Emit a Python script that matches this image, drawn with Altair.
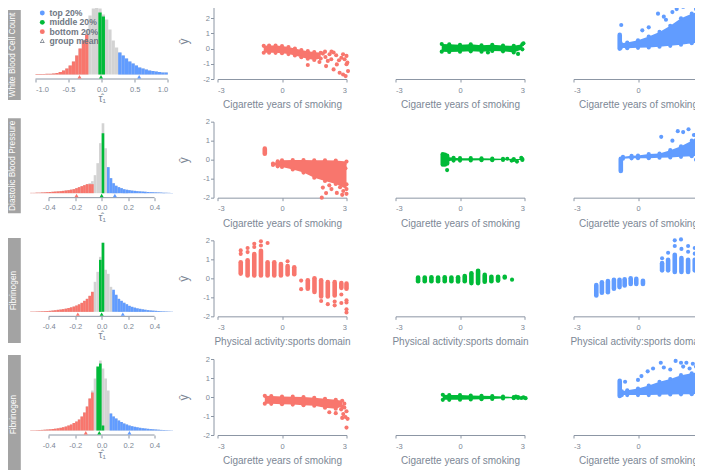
import altair as alt
import pandas as pd

RED, GREEN, BLUE, GRAY = "#F8766D", "#00BA38", "#619CFF", "#D3D3D3"
STRIP = "#A3A3A3"
AXC = "#8C96A4"
TXC = "#7C8795"
FONT = "Liberation Sans"

STRIP_LABELS = ["White Blood Cell Count", "Diastolic Blood Pressure", "Fibrinogen", "Fibrinogen"]
X_TITLES = ["Cigarette years of smoking", "Cigarette years of smoking",
            "Physical activity:sports domain", "Cigarette years of smoking"]
SCATTER_X_TICKS = [-3, 0, 3]
Y_TICKS = [[-2, -1, 0, 1, 2, 3], [-2, -1, 0, 1, 2], [-2, -1, 0, 1, 2], [-2, -1, 0, 1, 2]]
Y_DOMAINS = [[-2, 3], [-2, 2], [-2, 2], [-2, 2]]
HIST_TICKS = [[-1.0, -0.5, 0.0, 0.5, 1.0], [-0.4, -0.2, 0.0, 0.2, 0.4],
              [-0.4, -0.2, 0.0, 0.2, 0.4], [-0.4, -0.2, 0.0, 0.2, 0.4]]
HIST_DOMAINS = [[-1.0, 1.0], [-0.5, 0.5], [-0.5, 0.5], [-0.5, 0.5]]
LEGEND_LABELS = ["top 20%", "middle 20%", "bottom 20%", "group mean"]
GROUPS = ["bottom", "middle", "top"]

# ---------------- histograms (bar heights, arbitrary units) ----------------
HIST_START = [-1.0, -0.54, -0.54, -0.54]
HIST_BIN = [0.05, 0.02, 0.02, 0.02]

WBC_GRAY = [0.5, 0.5, 0.5, 0.7, 0.7, 1, 1.5, 2.5, 4, 6, 9, 13, 19, 26, 34, 44, 59, 66, 69, 66,
            60, 55, 45, 34, 27, 22, 19, 16, 13, 11, 9, 7, 6, 5, 4, 3.5, 3, 2.5, 2, 2]
WBC_RED = (-1.0, [0.5, 0.5, 0.5, 0.7, 0.7, 1, 1.5, 2.5, 4, 6, 9, 13, 19, 26, 34, 40])
WBC_GREEN = (-0.05, [62, 58])
WBC_BLUE = (0.25, [22, 19, 16, 13, 11, 9, 7, 6, 5, 4, 3.5, 3, 2.5, 2, 2])
WBC_MEANS = [-0.335, -0.01, 0.567]

DBP_GRAY = [0.3, 0.3, 0.5, 0.5, 0.7, 0.8, 1, 1.2, 1.4, 1.6, 1.8, 2, 2.3, 2.7, 3, 3.5, 4, 5, 6, 7,
            8, 9, 10, 12, 18, 30, 50, 70, 45, 26, 15, 10, 7.5, 6, 5, 4, 3.5, 3, 2.6, 2.3,
            2, 1.8, 1.6, 1.4, 1.2, 1, 0.9, 0.8, 0.7, 0.6, 0.5, 0.4, 0.3, 0.2]
DBP_RED = (-0.54, [0.3, 0.3, 0.5, 0.5, 0.7, 0.8, 1, 1.2, 1.4, 1.6, 1.8, 2, 2.3, 2.7, 3, 3.5, 4, 5,
                   6, 7, 8, 9, 9, 9])
DBP_GREEN = (0.0, [60])
DBP_BLUE = (0.04, [26, 15, 10, 7.5, 6, 5, 4, 3.5, 3, 2.6, 2.3, 2, 1.8, 1.6, 1.4, 1.2, 1, 0.9,
                   0.8, 0.7, 0.6, 0.5, 0.4, 0.3, 0.2])
DBP_MEANS = [-0.19, 0.0, 0.10]

FIB1_GRAY = [0.3, 0.3, 0.4, 0.5, 0.6, 0.7, 0.8, 1, 1.3, 1.6, 2, 2.3, 2.7, 3.2, 3.8, 4.5, 5.3, 6.3,
             7.5, 9, 11, 13, 16, 20, 30, 40, 55, 69, 42, 38, 25, 20, 16, 13, 11, 9, 7.5, 6, 5,
             4.2, 3.5, 3, 2.5, 2, 1.7, 1.4, 1.2, 1, 0.8, 0.6, 0.5, 0.4, 0.3, 0.2]
FIB1_RED = (-0.54, [0.3, 0.3, 0.4, 0.5, 0.6, 0.7, 0.8, 1, 1.3, 1.6, 2, 2.3, 2.7, 3.2, 3.8, 4.5,
                    5.3, 6.3, 7.5, 9, 11, 13, 16, 20])
FIB1_GREEN = (-0.02, [52, 69])
FIB1_BLUE = (0.08, [22, 17, 13, 11, 9, 7.5, 6, 5, 4.2, 3.5, 3, 2.5, 2, 1.7, 1.4, 1.2, 1, 0.8, 0.6,
                    0.5, 0.4, 0.3, 0.2])
FIB1_MEANS = [-0.18, 0.0, 0.16]

FIB2_GRAY = [0.3, 0.3, 0.4, 0.5, 0.6, 0.8, 1, 1.2, 1.5, 1.8, 2.2, 2.7, 3.3, 4, 5, 6, 7.5, 9, 11,
             14, 18, 24, 32, 40, 52, 62, 70, 62, 52, 40, 17, 14, 12, 10, 8.5, 7, 6, 5, 4.3,
             3.7, 3.2, 2.7, 2.3, 2, 1.7, 1.4, 1.2, 1, 0.8, 0.6, 0.5, 0.4, 0.3, 0.2]
FIB2_RED = (-0.54, [0.3, 0.3, 0.4, 0.5, 0.6, 0.8, 1, 1.2, 1.5, 1.8, 2.2, 2.7, 3.3, 4, 5, 6, 7.5,
                    9, 11, 14, 18, 24, 32, 38])
FIB2_GREEN = (-0.04, [64, 67, 5])
FIB2_BLUE = (0.06, [17, 14, 12, 10, 8.5, 7, 6, 5, 4.3, 3.7, 3.2, 2.7, 2.3, 2, 1.7, 1.4, 1.2, 1,
                    0.8, 0.6, 0.5, 0.4, 0.3, 0.2])
FIB2_MEANS = [-0.12, -0.018, 0.21]

HISTS = [(WBC_GRAY, WBC_RED, WBC_GREEN, WBC_BLUE, WBC_MEANS),
         (DBP_GRAY, DBP_RED, DBP_GREEN, DBP_BLUE, DBP_MEANS),
         (FIB1_GRAY, FIB1_RED, FIB1_GREEN, FIB1_BLUE, FIB1_MEANS),
         (FIB2_GRAY, FIB2_RED, FIB2_GREEN, FIB2_BLUE, FIB2_MEANS)]

# ---------------- scatter panels: clouds (x, lo, hi), strips (x, lo, hi), dots (x, y) --------
WBC_LOW_CLOUD = [(-0.85, -0.27, 0.18), (-0.6, -0.27, 0.2), (-0.3, -0.28, 0.2), (0.0, -0.3, 0.17),
                 (0.3, -0.36, 0.1), (0.6, -0.45, 0.0), (0.9, -0.57, -0.1), (1.2, -0.67, -0.17),
                 (1.5, -0.75, -0.22), (1.8, -0.65, -0.27)]
WBC_LOW_STRIPS = []
WBC_LOW_DOTS = [(1.59, -0.48), (1.74, -0.88), (1.9, -0.33), (2.02, -0.55), (2.13, -0.81),
                (2.21, -0.37), (2.29, -0.7), (2.4, -0.26), (2.52, -0.44), (2.55, -1.04),
                (2.65, -0.77), (2.76, -0.6), (2.84, -0.37), (2.91, -0.7), (3.0, -0.48),
                (3.04, -0.92), (2.4, -1.37), (2.68, -1.59), (2.84, -1.7), (2.96, -1.81),
                (3.07, -1.48), (1.2, -1.08), (2.05, -1.15), (3.0, -1.03), (2.0, -0.2), (2.3, -0.2)]

WBC_MID_CLOUD = [(-0.85, -0.2, 0.3), (-0.5, -0.22, 0.28), (0.0, -0.2, 0.25), (0.5, -0.18, 0.28),
                 (1.0, -0.2, 0.22), (1.5, -0.15, 0.25), (2.0, -0.18, 0.2), (2.5, -0.25, 0.18),
                 (2.9, -0.05, 0.28)]
WBC_MID_STRIPS = []
WBC_MID_DOTS = [(2.7, -0.35), (2.95, 0.35), (1.3, -0.25)]

WBC_TOP_CLOUD = [(-0.8, 0.05, 0.35), (-0.5, 0.02, 0.4), (0.0, 0.05, 0.55), (0.5, 0.08, 0.8),
                 (1.0, 0.12, 1.1), (1.5, 0.18, 1.5), (2.0, 0.25, 2.0), (2.5, 0.35, 2.3),
                 (3.0, 0.4, 2.5), (3.1, 0.45, 2.6)]
WBC_TOP_STRIPS = [(-0.85, 0.0, 0.9)]
WBC_TOP_DOTS = [(-0.78, 1.55), (0.93, 2.3), (0.5, 1.4), (1.3, 1.9), (1.6, 2.4), (1.8, 2.6),
                (2.1, 2.75), (2.3, 2.9), (2.6, 2.95), (2.9, 2.8), (0.2, 1.2), (1.2, 2.1),
                (2.7, 2.6), (3.05, 2.9), (1.9, 2.9)]

DBP_LOW_CLOUD = [(-0.42, -0.28, -0.2), (-0.2, -0.35, -0.08), (0.0, -0.38, -0.03),
                 (0.5, -0.52, -0.02), (1.0, -0.68, -0.02), (1.5, -0.95, -0.03),
                 (2.0, -1.12, -0.03), (2.5, -1.28, -0.05), (3.0, -1.55, -0.1)]
DBP_LOW_STRIPS = [(-0.8, 0.31, 0.58)]
DBP_LOW_DOTS = [(1.9, -1.47), (2.05, -1.76), (2.55, -1.75), (2.85, -1.65), (2.3, -1.55),
                (2.7, -1.45), (3.0, -1.8), (2.95, -0.45), (2.9, -0.25), (1.85, -2.0),
                (2.2, -1.35), (2.8, -1.85), (3.0, -1.3)]

DBP_MID_CLOUD = [(-0.7, -0.1, 0.15), (-0.3, -0.05, 0.1), (0.0, -0.05, 0.08), (0.5, -0.04, 0.08),
                 (1.0, -0.03, 0.07), (1.5, -0.03, 0.06), (2.0, -0.02, 0.05), (2.5, -0.02, 0.03),
                 (2.9, -0.02, 0.03)]
DBP_MID_STRIPS = [(-0.8, -0.25, 0.28), (-0.7, -0.25, 0.25), (-0.6, -0.2, 0.2)]
DBP_MID_DOTS = [(-0.6, -0.55), (2.4, -0.05), (2.65, -0.1), (2.85, 0.1), (2.2, 0.05)]

DBP_TOP_CLOUD = [(-0.7, 0.05, 0.15), (-0.3, 0.07, 0.2), (0.0, 0.08, 0.22), (0.5, 0.08, 0.3),
                 (1.0, 0.1, 0.32), (1.5, 0.12, 0.5), (2.0, 0.15, 0.7), (2.5, 0.18, 1.0),
                 (3.0, 0.22, 1.4), (3.1, 0.25, 1.5)]
DBP_TOP_STRIPS = [(-0.8, -0.6, 0.05)]
DBP_TOP_DOTS = [(1.08, 1.2), (1.85, 1.5), (2.1, 1.45), (2.35, 1.6), (2.6, 1.3), (2.9, 1.75),
                (3.05, 1.6), (1.6, 1.0), (2.7, 0.0), (2.95, 0.1)]

FIB1_LOW_CLOUD = []
FIB1_LOW_STRIPS = [(-1.92, 0.25, 0.85), (-1.6, 0.15, 0.95), (-1.29, 0.15, 1.28), (-0.98, 0.15, 1.45),
                   (-0.67, 0.15, 0.85), (-0.36, 0.15, 0.85), (-0.05, 0.15, 0.75), (0.26, 0.2, 0.65),
                   (0.57, 0.22, 0.58), (1.2, -0.55, -0.1), (1.51, -0.72, 0.0), (1.82, -0.95, -0.1),
                   (2.13, -0.95, -0.2), (2.45, -0.9, -0.2), (2.76, -0.5, -0.25), (3.0, -0.55, -0.28)]
FIB1_LOW_DOTS = [(-1.92, 1.47), (-1.92, 1.29), (-1.6, 1.6), (-1.6, 1.38), (-1.29, 1.82),
                 (-1.29, 1.65), (-0.98, 1.95), (-0.98, 1.73), (-0.67, 1.86), (0.26, 0.9),
                 (0.89, -0.12), (0.89, -0.57), (1.82, -1.19), (2.13, -1.36), (2.45, -1.22),
                 (2.45, -1.42), (2.76, -0.85), (2.76, -1.3), (3.0, -1.15), (3.0, -1.27),
                 (3.0, -1.63), (3.0, -1.8)]

FIB1_MID_CLOUD = []
FIB1_MID_STRIPS = [(-1.95, -0.15, 0.04), (-1.64, -0.15, 0.04), (-1.33, -0.15, 0.06),
                   (-1.02, -0.15, 0.04), (-0.71, -0.15, 0.06), (-0.40, -0.15, 0.04),
                   (-0.09, -0.17, 0.06), (0.22, -0.15, 0.12), (0.53, -0.25, 0.27),
                   (0.84, -0.25, 0.4), (1.15, -0.18, 0.18), (1.46, -0.15, 0.08),
                   (1.77, -0.12, 0.08), (2.08, 0.05, 0.08)]
FIB1_MID_DOTS = [(2.42, -0.07)]

FIB1_TOP_CLOUD = []
FIB1_TOP_STRIPS = [(-1.94, -0.9, -0.35), (-1.68, -0.76, -0.21), (-1.4, -0.73, -0.14),
                   (-1.12, -0.55, -0.08), (-0.86, -0.46, -0.08), (-0.62, -0.38, -0.05),
                   (-0.34, -0.3, 0.0), (-0.08, -0.3, -0.03), (0.23, -0.3, -0.13),
                   (1.12, 0.42, 0.8), (1.4, 0.42, 0.98), (1.71, 0.33, 1.24), (2.02, 0.33, 1.07),
                   (2.33, 0.33, 0.98), (2.64, 0.42, 0.98), (2.95, 0.6, 0.98)]
FIB1_TOP_DOTS = [(1.12, 1.06), (1.4, 1.35), (1.71, 1.7), (1.71, 2.0), (2.0, 2.05), (2.02, 1.55),
                 (2.33, 1.4), (2.33, 1.7), (2.64, 1.3), (2.64, 1.6), (2.95, 1.15)]

FIB2_LOW_CLOUD = [(-0.8, -0.35, 0.06), (-0.5, -0.36, 0.05), (0.0, -0.38, 0.03), (0.5, -0.4, 0.02),
                  (1.0, -0.43, 0.0), (1.5, -0.46, -0.04), (2.0, -0.56, -0.09), (2.5, -0.62, -0.15),
                  (2.8, -0.5, -0.2)]
FIB2_LOW_STRIPS = []
FIB2_LOW_DOTS = [(2.2, -0.8), (2.5, -0.85), (2.75, -0.65), (2.85, -0.9), (2.9, -0.35),
                 (2.95, -1.05), (3.0, -0.75), (3.05, -1.15), (2.8, -1.1), (3.0, -1.61), (2.9, -0.55)]

FIB2_MID_CLOUD = [(-0.8, -0.15, 0.12), (-0.5, -0.15, 0.1), (0.0, -0.14, 0.1), (0.5, -0.13, 0.08),
                  (1.0, -0.12, 0.06), (1.5, -0.1, 0.05), (2.0, -0.08, 0.03), (2.5, -0.06, 0.0),
                  (2.7, -0.05, 0.0)]
FIB2_MID_STRIPS = []
FIB2_MID_DOTS = [(2.85, -0.05), (2.95, -0.02), (3.05, -0.06), (2.6, 0.02)]

FIB2_TOP_CLOUD = [(-0.75, 0.1, 0.3), (-0.5, 0.1, 0.35), (0.0, 0.1, 0.45), (0.5, 0.1, 0.6),
                  (1.0, 0.12, 0.8), (1.5, 0.13, 0.95), (2.0, 0.14, 1.15), (2.5, 0.15, 1.25),
                  (3.0, 0.17, 1.35), (3.1, 0.18, 1.35)]
FIB2_TOP_STRIPS = [(-0.85, 0.05, 0.85)]
FIB2_TOP_DOTS = [(1.06, 1.8), (1.75, 1.9), (2.0, 1.8), (2.25, 1.8), (2.55, 1.75), (2.85, 1.8),
                 (3.0, 1.8), (0.16, 1.1), (0.45, 1.35), (0.7, 1.5), (1.2, 1.55), (1.5, 1.45),
                 (2.1, 1.6), (2.4, 1.5), (2.7, 1.6), (-0.6, 0.8), (0.0, 0.9)]

PANELS = [
    [(WBC_LOW_CLOUD, WBC_LOW_STRIPS, WBC_LOW_DOTS), (WBC_MID_CLOUD, WBC_MID_STRIPS, WBC_MID_DOTS),
     (WBC_TOP_CLOUD, WBC_TOP_STRIPS, WBC_TOP_DOTS)],
    [(DBP_LOW_CLOUD, DBP_LOW_STRIPS, DBP_LOW_DOTS), (DBP_MID_CLOUD, DBP_MID_STRIPS, DBP_MID_DOTS),
     (DBP_TOP_CLOUD, DBP_TOP_STRIPS, DBP_TOP_DOTS)],
    [(FIB1_LOW_CLOUD, FIB1_LOW_STRIPS, FIB1_LOW_DOTS), (FIB1_MID_CLOUD, FIB1_MID_STRIPS, FIB1_MID_DOTS),
     (FIB1_TOP_CLOUD, FIB1_TOP_STRIPS, FIB1_TOP_DOTS)],
    [(FIB2_LOW_CLOUD, FIB2_LOW_STRIPS, FIB2_LOW_DOTS), (FIB2_MID_CLOUD, FIB2_MID_STRIPS, FIB2_MID_DOTS),
     (FIB2_TOP_CLOUD, FIB2_TOP_STRIPS, FIB2_TOP_DOTS)],
]

# ---------------- layout ----------------
SW, SH = 129, 76          # scatter plot size
HW, HH = 132.3, 71.5      # histogram plot size
GAP = SH - HH             # bars bottom -> axis line
COL_SPACE = 49
ROW_SPACE = 118.67        # rows are flush (zero-height), so this is the row pitch
STRIP_X = (-30.7, -14.7)
STRIP_Y = [(7, 97), (-3.4, 91.6), (-2.3, 102.7), (-4, 115)]
STRIP_FONT = [8.2, 8.3, 8.4, 8.4]
DOT_SIZE = 17
STRIP_W = 4.6
COLORS = [RED, GREEN, BLUE]

MINUS_FIX = "replace(format(datum.value, '.1f'), '\u2212', '-')"


def hist_chart(r):
    gray, red, green, blue, means = HISTS[r]
    start, step = HIST_START[r], HIST_BIN[r]
    gdf = pd.DataFrame({"x0": [start + i * step for i in range(len(gray))], "h": gray})
    gdf["x1"] = gdf["x0"] + step
    rows = []
    for g, (first, vals) in zip(GROUPS, [red, green, blue]):
        for i, v in enumerate(vals):
            rows.append({"x0": first + i * step, "x1": first + (i + 1) * step, "h": v, "g": g})
    cdf = pd.DataFrame(rows)
    mdf = pd.DataFrame({"x0": means, "g": GROUPS})
    adf = pd.DataFrame({"x0": [HIST_TICKS[r][0]], "x1": [HIST_TICKS[r][-1]]})
    sdf = pd.DataFrame({"label": [STRIP_LABELS[r]]})

    xax = alt.Axis(values=HIST_TICKS[r], domain=False, offset=GAP, tickSize=3, tickColor=AXC,
                   labelExpr=MINUS_FIX, labelFontSize=7.5, labelColor=TXC, labelPadding=3,
                   title="τ̂₁", titleFontSize=10, titleColor=TXC, titlePadding=1,
                   titleFontWeight="normal", grid=False)
    X = alt.X("x0:Q", scale=alt.Scale(domain=HIST_DOMAINS[r], nice=False, zero=False), axis=xax)
    Y = alt.Y("h:Q", scale=alt.Scale(domain=[0, HH], nice=False), axis=None)
    gcol = alt.Color("g:N", scale=alt.Scale(domain=GROUPS, range=COLORS), legend=None)

    layers = [
        alt.Chart(gdf).mark_rect(color=GRAY).encode(x=X, x2="x1:Q", y=Y, y2=alt.datum(0)),
        alt.Chart(cdf).mark_rect().encode(x=X, x2="x1:Q", y=Y, y2=alt.datum(0), color=gcol),
        alt.Chart(adf).mark_rule(color=AXC, strokeWidth=1).encode(x=X, x2="x1:Q", y=alt.value(SH)),
        alt.Chart(mdf).mark_point(shape="triangle-up", filled=True, size=16, opacity=1).encode(
            x=X, y=alt.value(SH - 2.2), color=gcol),
        alt.Chart(sdf).mark_rect(color=STRIP).encode(
            x=alt.value(STRIP_X[0]), x2=alt.value(STRIP_X[1]),
            y=alt.value(STRIP_Y[r][0]), y2=alt.value(STRIP_Y[r][1])),
        alt.Chart(sdf).mark_text(angle=270, color="white", fontSize=STRIP_FONT[r], font=FONT,
                                 baseline="middle").encode(
            x=alt.value((STRIP_X[0] + STRIP_X[1]) / 2),
            y=alt.value((STRIP_Y[r][0] + STRIP_Y[r][1]) / 2), text="label:N"),
    ]
    if r == 0:
        ldf = pd.DataFrame({"label": LEGEND_LABELS})
        LY = alt.Y("label:N", scale=alt.Scale(type="point", domain=LEGEND_LABELS, range=[10, 38],
                                              padding=0), axis=None)
        tri = "M0,-1L1,0.8L-1,0.8Z M0,-0.5L-0.55,0.5L0.55,0.5Z"
        layers += [
            alt.Chart(ldf).mark_point(filled=True, size=24, opacity=1).encode(
                x=alt.value(6.8), y=LY,
                color=alt.Color("label:N", scale=alt.Scale(domain=LEGEND_LABELS,
                                                           range=[BLUE, GREEN, RED, "#6F7783"]),
                                legend=None),
                shape=alt.Shape("label:N", scale=alt.Scale(domain=LEGEND_LABELS,
                                                           range=["circle", "circle", "circle", tri]),
                                legend=None)),
            alt.Chart(ldf).mark_text(align="left", baseline="middle", fontSize=8.6, fontWeight="bold",
                                     color="#6F7783", font=FONT).encode(
                x=alt.value(14), y=LY, text="label:N"),
        ]
    return alt.layer(*layers).resolve_scale(y="independent", color="independent",
                                            shape="independent").properties(width=HW, height=HH)


def scatter_chart(r, c):
    cloud, strips, dots = PANELS[r][c]
    col = COLORS[c]
    xax = alt.Axis(values=SCATTER_X_TICKS, labelExpr="datum.value", tickSize=3, tickColor=AXC,
                   domainColor=AXC, labelFontSize=7.5, labelColor=TXC, labelPadding=4,
                   title=X_TITLES[r], titleFontSize=10, titleColor=TXC, titlePadding=6,
                   titleFontWeight="normal", grid=False)
    if c == 0:
        yax = alt.Axis(values=Y_TICKS[r], labelExpr="datum.value", offset=4, tickSize=3,
                       tickColor=AXC, domainColor=AXC, labelFontSize=7.5, labelColor=TXC,
                       labelPadding=1, title="ŷ", titleFontSize=12, titleColor=TXC,
                       titlePadding=12, titleFontWeight="normal", grid=False)
    else:
        yax = None
    xs = alt.Scale(domain=[-3, 3], nice=False, zero=False)
    ys = alt.Scale(domain=Y_DOMAINS[r], nice=False, zero=False)

    def X(f):
        return alt.X(f, type="quantitative", scale=xs, axis=xax)

    def Y(f):
        return alt.Y(f, type="quantitative", scale=ys, axis=yax)

    layers = []
    if cloud:
        cdf = pd.DataFrame(cloud, columns=["x", "lo", "hi"])
        layers.append(alt.Chart(cdf).mark_area(color=col, opacity=1).encode(
            x=X("x"), y=Y("lo"), y2="hi:Q"))
        edf = pd.DataFrame([(p[0], p[1]) for p in cloud] + [(p[0], p[2]) for p in cloud],
                           columns=["x", "y"])
        layers.append(alt.Chart(edf).mark_circle(color=col, size=DOT_SIZE, opacity=1).encode(
            x=X("x"), y=Y("y")))
    if strips:
        sdf = pd.DataFrame(strips, columns=["x", "lo", "hi"])
        layers.append(alt.Chart(sdf).mark_rule(color=col, strokeWidth=STRIP_W, strokeCap="round").encode(
            x=X("x"), y=Y("lo"), y2="hi:Q"))
    if dots:
        ddf = pd.DataFrame(dots, columns=["x", "y"])
        layers.append(alt.Chart(ddf).mark_circle(color=col, size=DOT_SIZE, opacity=1).encode(
            x=X("x"), y=Y("y")))
    return alt.layer(*layers).properties(width=SW, height=SH)


rows = []
for r in range(4):
    rows.append(alt.hconcat(hist_chart(r), *[scatter_chart(r, c) for c in range(3)],
                            spacing=COL_SPACE, bounds="flush"))

chart = alt.vconcat(*rows, spacing=ROW_SPACE, bounds="flush").properties(
    padding={"left": -3.5, "top": -9, "right": -13, "bottom": 0},
    background="white",
).configure(font=FONT).configure_view(stroke=None)

chart.save("out.html", embed_options={"renderer": "svg", "actions": False})
